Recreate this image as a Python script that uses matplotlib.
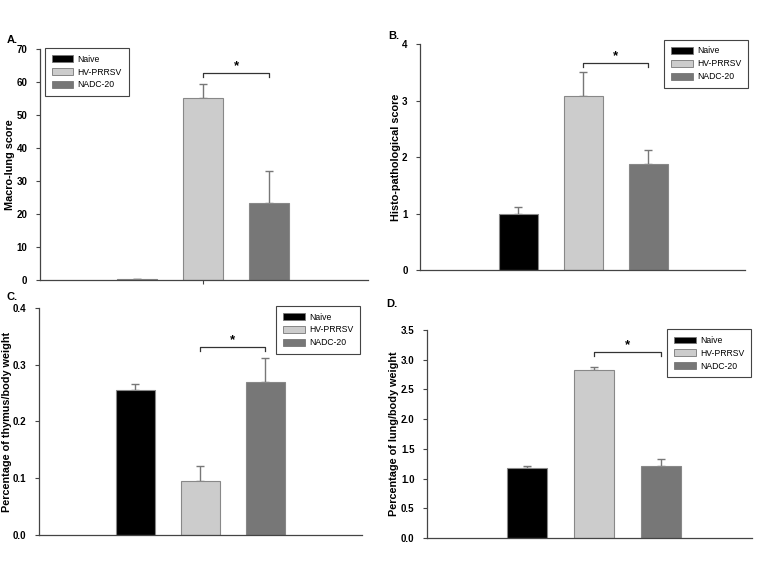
import numpy as np
import matplotlib
matplotlib.use('Agg')
import matplotlib.pyplot as plt
from matplotlib.patches import Patch

plt.rcParams['font.family'] = ['Liberation Sans', 'DejaVu Sans']

groups = ['Naive', 'HV-PRRSV', 'NADC-20']
colors = ['#000000', '#cccccc', '#777777']

# means and top of the error bar, per panel
macro_mean = [0.3, 55.0, 23.2]
macro_top = [0.4, 59.4, 32.9]
histo_mean = [1.0, 3.08, 1.88]
histo_top = [1.11, 3.51, 2.13]
thymus_mean = [0.256, 0.095, 0.270]
thymus_top = [0.266, 0.121, 0.311]
lung_mean = [1.17, 2.82, 1.21]
lung_top = [1.21, 2.88, 1.33]

# significance bracket heights (between HV-PRRSV and NADC-20)
bracket_y = [62.7, 3.66, 0.331, 3.13]

fig = plt.figure(figsize=(7.63, 5.69), dpi=100)

panels = [
    dict(pos=[0.0524, 0.508, 0.430, 0.406], mean=macro_mean, top=macro_top,
         ylim=(0, 70), ticks=np.arange(0, 71, 10), fmt='%d', ylabel='Macro-lung score',
         xlim=(-1.47, 3.5), leg_loc='upper left', leg_anchor=(0.015, 1.005),
         letter='A.', lpos=(0.009, 0.925), xtick=True, labx=-0.075),
    dict(pos=[0.5505, 0.5255, 0.426, 0.397], mean=histo_mean, top=histo_top,
         ylim=(0, 4), ticks=np.arange(0, 5, 1), fmt='%d', ylabel='Histo-pathological score',
         xlim=(-1.51, 3.49), leg_loc='upper right', leg_anchor=(1.01, 1.02),
         letter='B.', lpos=(0.509, 0.932), xtick=False, labx=-0.058),
    dict(pos=[0.0511, 0.0598, 0.4233, 0.399], mean=thymus_mean, top=thymus_top,
         ylim=(0, 0.4), ticks=np.arange(0, 0.41, 0.1), fmt='%.1f',
         ylabel='Percentage of thymus/body weight',
         xlim=(-1.48, 3.49), leg_loc='upper right', leg_anchor=(0.994, 1.01),
         letter='C.', lpos=(0.009, 0.472), xtick=False, labx=-0.084),
    dict(pos=[0.5596, 0.0545, 0.426, 0.3656], mean=lung_mean, top=lung_top,
         ylim=(0, 3.5), ticks=np.arange(0, 3.51, 0.5), fmt='%.1f',
         ylabel='Percentage of lung/body weight',
         xlim=(-1.5, 3.36), leg_loc='upper right', leg_anchor=(0.997, 1.005),
         letter='D.', lpos=(0.506, 0.461), xtick=False, labx=-0.086),
]

x = np.arange(len(groups))
for i, p in enumerate(panels):
    ax = fig.add_axes(p['pos'])
    mean = np.array(p['mean'])
    err = np.array(p['top']) - mean
    ax.bar(x, mean, width=0.6, color=colors, edgecolor='#888888', linewidth=0.8, zorder=2)
    ax.errorbar(x, mean, yerr=[np.zeros_like(err), err], fmt='none',
                ecolor='#777777', elinewidth=1, capsize=3, capthick=1, zorder=1)
    ax.set_xlim(*p['xlim'])
    ax.set_ylim(*p['ylim'])
    ax.set_yticks(p['ticks'])
    ax.set_yticklabels([p['fmt'] % t for t in p['ticks']], fontsize=7, fontweight='bold')
    ax.set_ylabel(p['ylabel'], fontsize=7.8, fontweight='bold')
    ax.yaxis.set_label_coords(p['labx'], 0.5)
    if p['xtick']:
        ax.set_xticks([1])
        ax.set_xticklabels([''])
    else:
        ax.set_xticks([])
    for s in ['top', 'right']:
        ax.spines[s].set_visible(False)
    for s in ['left', 'bottom']:
        ax.spines[s].set_color('#444444')
        ax.spines[s].set_linewidth(0.9)
    ax.tick_params(direction='out', length=3, width=0.8, color='#444444', pad=6)

    # bracket
    yb = bracket_y[i]
    dy = (p['ylim'][1] - p['ylim'][0]) * 0.018
    ax.plot([1, 1, 2, 2], [yb - dy, yb, yb, yb - dy], color='#333333', lw=0.9)
    ax.text(1.5, yb + dy * 0.3, '*', ha='center', va='bottom', fontsize=9.5, fontweight='bold')

    handles = [Patch(facecolor=c, edgecolor='#777777', linewidth=0.6) for c in colors]
    leg = ax.legend(handles, groups, loc=p['leg_loc'], bbox_to_anchor=p['leg_anchor'],
                    prop={'size': 6.2}, fancybox=False, framealpha=1, edgecolor='#444444',
                    handlelength=2.5, handleheight=0.8, borderpad=0.8,
                    labelspacing=0.45, handletextpad=0.5, borderaxespad=0)
    leg.get_frame().set_linewidth(0.8)

    fig.text(p['lpos'][0], p['lpos'][1], p['letter'], fontsize=8, fontweight='bold')

fig.savefig('out.png', dpi=100)
